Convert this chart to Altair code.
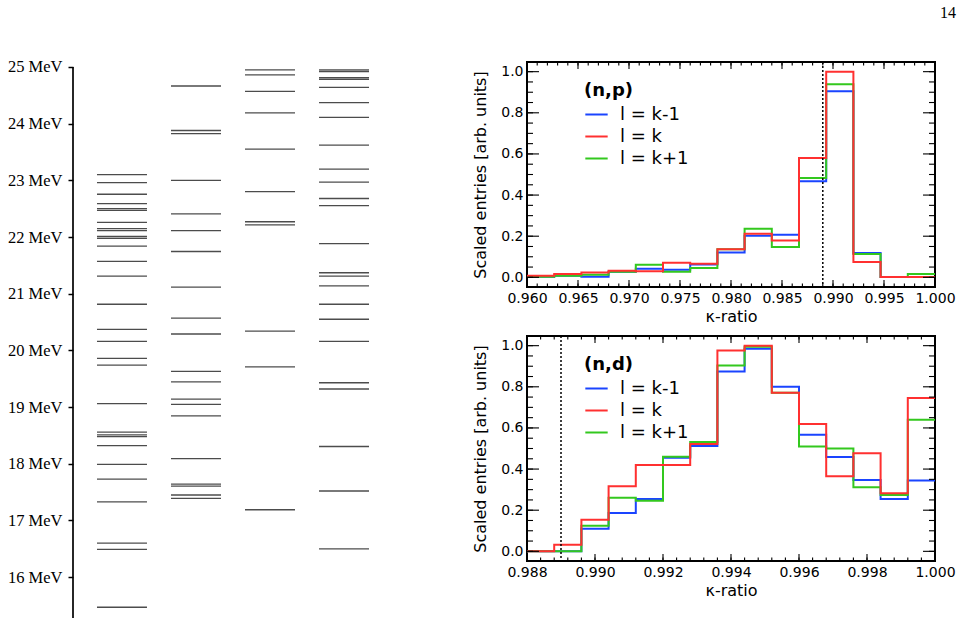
import altair as alt
import numpy as np
import pandas as pd

# ---------------------------------------------------------------
# Excitation level scheme (MeV), one list per column
# ---------------------------------------------------------------
level_columns = ["A", "B", "C", "D"]
levels_A = [23.10, 22.96, 22.755, 22.59, 22.50, 22.47, 22.26, 22.15, 22.115,
            22.01, 21.975, 21.84, 21.57, 21.31, 20.815, 20.37, 20.16, 19.86,
            19.74, 19.06, 18.56, 18.51, 18.48, 18.32, 17.99, 17.73, 17.33,
            16.60, 16.49, 15.47]
levels_B = [24.665, 23.88, 23.825, 23.0, 22.41, 22.115, 21.745, 21.115, 20.57,
            20.29, 19.63, 19.445, 19.14, 19.05, 18.845, 18.09, 17.64, 17.605,
            17.45, 17.39]
levels_C = [24.95, 24.86, 24.57, 24.19, 23.55, 22.80, 22.27, 22.215, 20.34,
            19.71, 17.19]
levels_D = [24.95, 24.92, 24.81, 24.78, 24.64, 24.37, 24.11, 23.62, 23.20,
            22.97, 22.68, 22.555, 21.885, 21.37, 21.31, 21.14, 20.815, 20.55,
            20.16, 19.43, 19.32, 18.305, 17.52, 16.50]
energy_ticks = list(range(16, 26))
energy_top = 25.088
energy_bottom = 15.28

# ---------------------------------------------------------------
# kappa-ratio histograms (15 uniform bins each)
# ---------------------------------------------------------------
series_names = ["l = k-1", "l = k", "l = k+1"]
series_colors = ["#1a44ff", "#ff3030", "#33c81e"]
threshold = 0.989

np_range = (0.960, 1.000)
np_km1 = [0.003, 0.008, 0.003, 0.027, 0.042, 0.037, 0.063, 0.121, 0.202,
          0.207, 0.467, 0.905, 0.118, 0.002, 0.002]
np_k = [0.008, 0.016, 0.024, 0.032, 0.029, 0.071, 0.066, 0.136, 0.212,
        0.179, 0.580, 1.000, 0.075, 0.002, 0.002]
np_kp1 = [0.003, 0.008, 0.013, 0.027, 0.061, 0.027, 0.045, 0.136, 0.236,
          0.147, 0.483, 0.939, 0.114, 0.002, 0.016]

nd_range = (0.988, 1.000)
nd_km1 = [0.0, 0.0, 0.110, 0.186, 0.254, 0.455, 0.512, 0.875, 0.985,
          0.800, 0.567, 0.459, 0.347, 0.254, 0.345]
nd_k = [0.0, 0.032, 0.154, 0.316, 0.420, 0.420, 0.522, 0.976, 1.000,
        0.771, 0.619, 0.365, 0.477, 0.282, 0.746]
nd_kp1 = [0.0, 0.0, 0.125, 0.261, 0.246, 0.460, 0.532, 0.903, 0.995,
          0.771, 0.510, 0.500, 0.311, 0.274, 0.640]

SANS = "DejaVu Sans"
SERIF = "Liberation Serif"
PANEL_W, PANEL_H = 408, 225


def step_frame(lo, hi, series_values):
    rows = []
    for name, vals in zip(series_names, series_values):
        edges = np.linspace(lo, hi, len(vals) + 1)
        for e, v in zip(edges[:-1], vals):
            rows.append({"series": name, "kappa": float(e), "entries": v})
        rows.append({"series": name, "kappa": float(edges[-1]), "entries": vals[-1]})
    return pd.DataFrame(rows)


def ticks(lo, hi, step):
    n = int(round((hi - lo) / step))
    return [round(lo + i * step, 5) for i in range(n + 1)]


def kappa_panel(lo, hi, series_values, major, minor, label):
    df = step_frame(lo, hi, series_values)
    xs = alt.Scale(domain=[lo, hi], nice=False, zero=False)
    ys = alt.Scale(domain=[-0.047, 1.047], nice=False, zero=False)
    x_major, x_minor = ticks(lo, hi, major), ticks(lo, hi, minor)
    y_major, y_minor = ticks(0.0, 1.0, 0.2), ticks(0.0, 1.0, 0.05)

    x_axis = alt.Axis(values=x_major, format=".3f", ticks=False, domain=False,
                      grid=False, labelFlush=False, labelOverlap=False,
                      labelPadding=4, labelFont=SANS, labelFontSize=14,
                      labelColor="black", title="κ-ratio", titleFont=SANS,
                      titleFontSize=16, titleFontWeight="normal",
                      titleColor="black", titlePadding=3)
    y_axis = alt.Axis(values=y_major, format=".1f", ticks=False, domain=False,
                      grid=False, labelOverlap=False, labelPadding=4,
                      labelFont=SANS, labelFontSize=14, labelColor="black",
                      title="Scaled entries  [arb. units]", titleFont=SANS,
                      titleFontSize=16, titleFontWeight="normal",
                      titleColor="black", titlePadding=12)
    X = lambda field: alt.X(field, scale=xs, axis=x_axis)
    Y = lambda field: alt.Y(field, scale=ys, axis=y_axis)

    legend = alt.Legend(title=label, orient="none", legendX=57, legendY=20,
                        symbolType="stroke", symbolSize=500, symbolStrokeWidth=2,
                        labelFont=SANS, labelFontSize=18, labelOffset=11,
                        labelColor="black", titleFont=SANS, titleFontSize=18,
                        titleFontWeight="bold", titleColor="black",
                        titlePadding=2, rowPadding=0, padding=0)
    color = alt.Color("series:N", legend=legend,
                      scale=alt.Scale(domain=series_names, range=series_colors))

    base = alt.Chart(df)
    layers = []
    # draw order: blue, green, red on top
    for name in [series_names[0], series_names[2], series_names[1]]:
        layers.append(
            base.transform_filter(alt.datum.series == name)
            .mark_line(interpolate="step-after", strokeWidth=2)
            .encode(x=X("kappa:Q"), y=Y("entries:Q"), color=color)
        )

    layers.append(
        alt.Chart(pd.DataFrame({"kappa": [threshold]}))
        .mark_rule(color="black", strokeDash=[2, 2], strokeWidth=1.5)
        .encode(x=X("kappa:Q"))
    )

    # inward tick marks on all four sides of the frame (major and minor)
    tick_rule = dict(color="black", strokeWidth=1.1)
    for vals, length in [(x_major, 7), (x_minor, 3.5)]:
        tdf = pd.DataFrame({"kappa": vals})
        layers.append(alt.Chart(tdf).mark_rule(**tick_rule).encode(
            x=X("kappa:Q"), y=alt.value(PANEL_H), y2=alt.value(PANEL_H - length)))
        layers.append(alt.Chart(tdf).mark_rule(**tick_rule).encode(
            x=X("kappa:Q"), y=alt.value(0), y2=alt.value(length)))
    for vals, length in [(y_major, 12), (y_minor, 6)]:
        tdf = pd.DataFrame({"entries": vals})
        layers.append(alt.Chart(tdf).mark_rule(**tick_rule).encode(
            y=Y("entries:Q"), x=alt.value(0), x2=alt.value(length)))
        layers.append(alt.Chart(tdf).mark_rule(**tick_rule).encode(
            y=Y("entries:Q"), x=alt.value(PANEL_W), x2=alt.value(PANEL_W - length)))

    return alt.layer(*layers).properties(
        width=PANEL_W, height=PANEL_H,
        view=alt.ViewBackground(stroke="black", strokeWidth=2),
    )


# ---------------------------------------------------------------
# Level scheme panel
# ---------------------------------------------------------------
lev_df = pd.DataFrame(
    [{"column": c, "energy": e}
     for c, es in zip(level_columns, [levels_A, levels_B, levels_C, levels_D])
     for e in es]
)
e_scale = alt.Scale(domain=[energy_bottom, energy_top], nice=False, zero=False)
e_axis = alt.Axis(values=energy_ticks, labelExpr="datum.value + ' MeV'",
                  domain=False, grid=False, tickSize=5, tickWidth=1.5,
                  tickColor="black", labelFont=SERIF, labelFontSize=16.5,
                  labelColor="black", labelPadding=6, title=None)

level_marks = alt.Chart(lev_df).mark_tick(
    color="black", size=50, thickness=1.3, orient="horizontal"
).encode(
    x=alt.X("column:N", axis=None,
            scale=alt.Scale(domain=level_columns, paddingInner=0, paddingOuter=0.162)),
    y=alt.Y("energy:Q", scale=e_scale, axis=e_axis),
)
energy_axis_line = alt.Chart(
    pd.DataFrame({"top": [float(energy_ticks[-1])], "bottom": [energy_bottom]})
).mark_rule(color="black", strokeWidth=1.7).encode(
    x=alt.value(0), y=alt.Y("top:Q", scale=e_scale, axis=e_axis), y2="bottom:Q"
)
left = alt.layer(energy_axis_line, level_marks).properties(width=320, height=556)

top = kappa_panel(np_range[0], np_range[1], [np_km1, np_k, np_kp1], 0.005, 0.001, "(n,p)")
bottom = kappa_panel(nd_range[0], nd_range[1], [nd_km1, nd_k, nd_kp1], 0.002, 0.0004, "(n,d)")

right = (
    alt.vconcat(top, bottom, spacing=49, bounds="flush")
    .resolve_scale(color="independent")
    .resolve_legend(color="independent")
)

chart = (
    alt.hconcat(left, right, spacing=134, bounds="flush")
    .resolve_scale(color="independent")
    .resolve_legend(color="independent")
    .properties(
        title=alt.TitleParams("14", anchor="end", font=SERIF, fontSize=16,
                              fontWeight="normal", color="black", offset=38),
        padding={"left": 7, "top": 4, "right": 0, "bottom": 0},
    )
    .configure_view(stroke=None)
)

chart.save("out.html", embed_options={"renderer": "svg", "actions": False})
